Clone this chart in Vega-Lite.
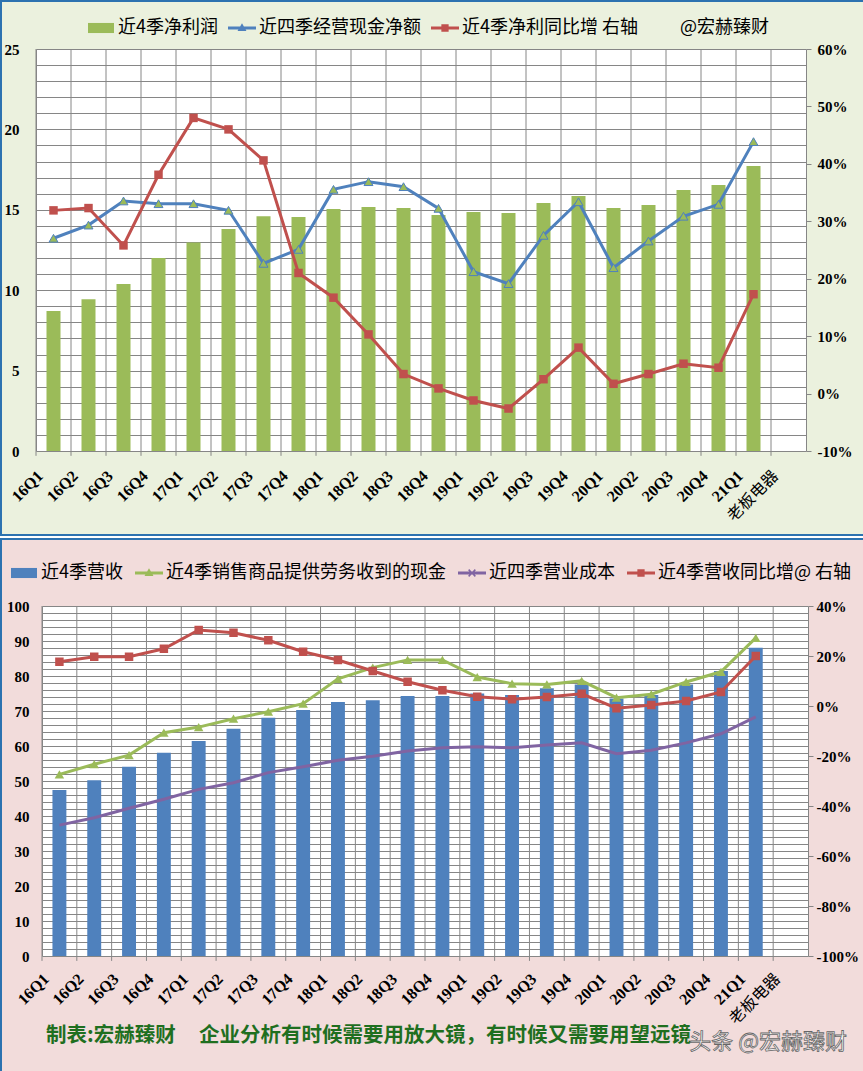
{
  "$schema": "https://vega.github.io/schema/vega-lite/v6.json",
  "padding": 0,
  "spacing": 4,
  "bounds": "flush",
  "background": "#ffffff",
  "config": {"view": {"stroke": null}, "style": {"wm": {"stroke": "#666666", "strokeWidth": 0.8}}},
  "title": {"text": "头条 @宏赫臻财", "orient": "bottom", "anchor": "end", "frame": "bounds", "offset": -31, "dx": -18, "baseline": "middle", "fontSize": 22, "font": "Noto Sans CJK SC", "fontWeight": "normal", "color": "#ffffff", "style": "wm"},
  "datasets": {
    "top": [
      {"q": "16Q1", "np": 8.7, "ocf": 13.23, "npg": 0.319},
      {"q": "16Q2", "np": 9.43, "ocf": 14.05, "npg": 0.323},
      {"q": "16Q3", "np": 10.39, "ocf": 15.55, "npg": 0.258},
      {"q": "16Q4", "np": 12.0, "ocf": 15.38, "npg": 0.381},
      {"q": "17Q1", "np": 12.96, "ocf": 15.38, "npg": 0.48},
      {"q": "17Q2", "np": 13.8, "ocf": 14.97, "npg": 0.46},
      {"q": "17Q3", "np": 14.6, "ocf": 11.67, "npg": 0.406},
      {"q": "17Q4", "np": 14.55, "ocf": 12.54, "npg": 0.21},
      {"q": "18Q1", "np": 15.05, "ocf": 16.27, "npg": 0.167},
      {"q": "18Q2", "np": 15.17, "ocf": 16.75, "npg": 0.103},
      {"q": "18Q3", "np": 15.11, "ocf": 16.44, "npg": 0.034},
      {"q": "18Q4", "np": 14.68, "ocf": 15.09, "npg": 0.009},
      {"q": "19Q1", "np": 14.86, "ocf": 11.15, "npg": -0.012},
      {"q": "19Q2", "np": 14.8, "ocf": 10.41, "npg": -0.026},
      {"q": "19Q3", "np": 15.42, "ocf": 13.41, "npg": 0.025},
      {"q": "19Q4", "np": 15.86, "ocf": 15.5, "npg": 0.08},
      {"q": "20Q1", "np": 15.11, "ocf": 11.4, "npg": 0.017},
      {"q": "20Q2", "np": 15.3, "ocf": 13.06, "npg": 0.034},
      {"q": "20Q3", "np": 16.23, "ocf": 14.6, "npg": 0.052},
      {"q": "20Q4", "np": 16.54, "ocf": 15.34, "npg": 0.045},
      {"q": "21Q1", "np": 17.72, "ocf": 19.24, "npg": 0.173},
      {"q": "老板电器", "np": null, "ocf": null, "npg": null}
    ],
    "bot": [
      {"q": "16Q1", "rev": 47.4, "cash": 51.9, "cost": 37.4, "revg": 0.177},
      {"q": "16Q2", "rev": 50.2, "cash": 54.8, "cost": 39.5, "revg": 0.197},
      {"q": "16Q3", "rev": 54.1, "cash": 57.4, "cost": 42.2, "revg": 0.197},
      {"q": "16Q4", "rev": 58.1, "cash": 63.8, "cost": 44.8, "revg": 0.229},
      {"q": "17Q1", "rev": 61.4, "cash": 65.4, "cost": 47.6, "revg": 0.304},
      {"q": "17Q2", "rev": 64.9, "cash": 67.8, "cost": 49.5, "revg": 0.293},
      {"q": "17Q3", "rev": 68.1, "cash": 69.8, "cost": 52.4, "revg": 0.263},
      {"q": "17Q4", "rev": 70.3, "cash": 72.1, "cost": 54.1, "revg": 0.217},
      {"q": "18Q1", "rev": 72.6, "cash": 79.2, "cost": 55.9, "revg": 0.184},
      {"q": "18Q2", "rev": 73.1, "cash": 82.4, "cost": 57.1, "revg": 0.14},
      {"q": "18Q3", "rev": 74.3, "cash": 84.6, "cost": 58.6, "revg": 0.097},
      {"q": "18Q4", "rev": 74.3, "cash": 84.6, "cost": 59.5, "revg": 0.063},
      {"q": "19Q1", "rev": 75.0, "cash": 79.7, "cost": 59.8, "revg": 0.037},
      {"q": "19Q2", "rev": 74.6, "cash": 77.8, "cost": 59.5, "revg": 0.027},
      {"q": "19Q3", "rev": 76.5, "cash": 77.6, "cost": 60.3, "revg": 0.036},
      {"q": "19Q4", "rev": 77.6, "cash": 78.6, "cost": 60.9, "revg": 0.049},
      {"q": "20Q1", "rev": 73.6, "cash": 73.8, "cost": 57.8, "revg": -0.009},
      {"q": "20Q2", "rev": 74.6, "cash": 74.8, "cost": 58.8, "revg": 0.004},
      {"q": "20Q3", "rev": 77.6, "cash": 78.3, "cost": 60.9, "revg": 0.02},
      {"q": "20Q4", "rev": 81.4, "cash": 81.2, "cost": 63.5, "revg": 0.056},
      {"q": "21Q1", "rev": 88.1, "cash": 90.9, "cost": 68.3, "revg": 0.2},
      {"q": "老板电器", "rev": null, "cash": null, "cost": null, "revg": null}
    ]
  },
  "resolve": {"scale": {"color": "independent", "x": "independent", "y": "independent"}, "legend": {"color": "independent"}},
  "vconcat": [
    {
      "width": 863,
      "height": 534,
      "data": {"name": "top"},
      "view": {"fill": "#EBF1DE", "stroke": "#2C72B0", "strokeWidth": 2},
      "encoding": {
        "x": {"field": "q", "type": "nominal", "sort": null,
          "scale": {"domain": ["16Q1","16Q2","16Q3","16Q4","17Q1","17Q2","17Q3","17Q4","18Q1","18Q2","18Q3","18Q4","19Q1","19Q2","19Q3","19Q4","20Q1","20Q2","20Q3","20Q4","21Q1","老板电器"], "range": [35, 805], "paddingInner": 0, "paddingOuter": 0},
          "axis": {"title": null, "orient": "bottom", "offset": -285, "ticks": false, "tickSize": 0, "grid": false, "domainColor": "#ffffff", "domainWidth": 402, "labelAngle": -45, "labelAlign": "right", "labelBaseline": "middle", "labelPadding": 223, "labelOffset": -13, "labelFont": "Liberation Serif, Noto Sans CJK SC", "labelFontSize": 16, "labelFontWeight": {"condition": {"test": "datum.value === '老板电器'", "value": "normal"}, "value": "bold"}, "labelColor": "#000000", "labelOverlap": false, "labelLimit": 0, "labelBound": false}}
      },
      "layer": [
        {
          "layer": [
            {
              "mark": {"type": "rule", "color": "#868686", "strokeWidth": 1},
              "encoding": {
                "x": {"field": "q", "type": "nominal", "sort": null, "bandPosition": 0,
                  "axis": {"title": null, "orient": "bottom", "offset": -285, "ticks": false, "tickSize": 0, "grid": false, "domainColor": "#ffffff", "domainWidth": 402, "labelAngle": -45, "labelAlign": "right", "labelBaseline": "middle", "labelPadding": 223, "labelOffset": -13, "labelFont": "Liberation Serif, Noto Sans CJK SC", "labelFontSize": 16, "labelFontWeight": {"condition": {"test": "datum.value === '老板电器'", "value": "normal"}, "value": "bold"}, "labelColor": "#000000", "labelOverlap": false, "labelLimit": 0, "labelBound": false}},
                "y": {"datum": -0.3, "type": "quantitative", "scale": {"domain": [0, 25], "range": [450, 48], "nice": false},
                  "axis": {"title": null, "orient": "left", "offset": -35, "values": [0,1,2,3,4,5,6,7,8,9,10,11,12,13,14,15,16,17,18,19,20,21,22,23,24,25], "grid": false, "ticks": true, "tickSize": -770, "tickColor": "#868686", "tickWidth": 1, "domainColor": "#868686", "labelExpr": "datum.value % 5 === 0 ? datum.label : ''", "labelPadding": 787, "labelFont": "Liberation Serif", "labelFontSize": 15, "labelFontWeight": "bold", "labelColor": "#000000", "labelOverlap": false}},
                "y2": {"datum": 25}
              }
            },
            {
              "mark": {"type": "bar", "width": {"band": 0.4}},
              "encoding": {
                "y": {"field": "np", "type": "quantitative", "scale": {"domain": [0, 25], "range": [450, 48], "nice": false},
                  "axis": {"title": null, "orient": "left", "offset": -35, "values": [0,1,2,3,4,5,6,7,8,9,10,11,12,13,14,15,16,17,18,19,20,21,22,23,24,25], "grid": false, "ticks": true, "tickSize": -770, "tickColor": "#868686", "tickWidth": 1, "domainColor": "#868686", "labelExpr": "datum.value % 5 === 0 ? datum.label : ''", "labelPadding": 787, "labelFont": "Liberation Serif", "labelFontSize": 15, "labelFontWeight": "bold", "labelColor": "#000000", "labelOverlap": false}},
                "color": {"datum": "近4季净利润",
                  "scale": {"domain": ["近4季净利润", "近四季经营现金净额", "近4季净利同比增 右轴", "@宏赫臻财"], "range": ["#9BBB59", "#4F81BD", "#C0504D", "#000000"]},
                  "legend": {"title": null, "orient": "none", "legendX": 86, "legendY": 13, "direction": "horizontal", "symbolSize": 784, "symbolStrokeWidth": 0, "labelFont": "Noto Sans CJK SC", "labelFontSize": 18, "labelColor": "#000000", "labelOffset": 3, "columnPadding": 10, "padding": 0, "labelLimit": 0,
                    "encode": {"symbols": {"update": {"shape": {"signal": "datum.value === '近4季净利润' ? 'M-0.93,-0.36H0.93V0.36H-0.93Z' : datum.value === '近四季经营现金净额' ? 'M-1,-0.1H1V0.1H-1ZM0,-0.34L0.32,0.22L-0.32,0.22Z' : datum.value === '近4季净利同比增 右轴' ? 'M-1,-0.1H1V0.1H-1ZM-0.26,-0.26H0.26V0.26H-0.26Z' : 'M0,0'"}, "strokeWidth": {"value": 0}}}}}}
              }
            },
            {
              "mark": {"type": "line", "color": "#4F81BD", "strokeWidth": 3},
              "encoding": {
                "y": {"field": "ocf", "type": "quantitative", "scale": {"domain": [0, 25], "range": [450, 48], "nice": false},
                  "axis": {"title": null, "orient": "left", "offset": -35, "values": [0,1,2,3,4,5,6,7,8,9,10,11,12,13,14,15,16,17,18,19,20,21,22,23,24,25], "grid": false, "ticks": true, "tickSize": -770, "tickColor": "#868686", "tickWidth": 1, "domainColor": "#868686", "labelExpr": "datum.value % 5 === 0 ? datum.label : ''", "labelPadding": 787, "labelFont": "Liberation Serif", "labelFontSize": 15, "labelFontWeight": "bold", "labelColor": "#000000", "labelOverlap": false}}
              }
            },
            {
              "mark": {"type": "point", "shape": "triangle-up", "size": 80, "filled": true, "fill": "#9BBB59", "stroke": "#4F81BD", "strokeWidth": 1, "opacity": 1},
              "encoding": {
                "y": {"field": "ocf", "type": "quantitative", "scale": {"domain": [0, 25], "range": [450, 48], "nice": false},
                  "axis": {"title": null, "orient": "left", "offset": -35, "values": [0,1,2,3,4,5,6,7,8,9,10,11,12,13,14,15,16,17,18,19,20,21,22,23,24,25], "grid": false, "ticks": true, "tickSize": -770, "tickColor": "#868686", "tickWidth": 1, "domainColor": "#868686", "labelExpr": "datum.value % 5 === 0 ? datum.label : ''", "labelPadding": 787, "labelFont": "Liberation Serif", "labelFontSize": 15, "labelFontWeight": "bold", "labelColor": "#000000", "labelOverlap": false}}
              }
            }
          ]
        },
        {
          "layer": [
            {
              "mark": {"type": "line", "color": "#C0504D", "strokeWidth": 3},
              "encoding": {
                "y": {"field": "npg", "type": "quantitative", "scale": {"domain": [-0.1, 0.6], "range": [450, 48], "nice": false, "zero": false},
                  "axis": {"title": null, "orient": "right", "offset": -58, "values": [-0.1, 0, 0.1, 0.2, 0.3, 0.4, 0.5, 0.6], "format": ".0%", "labelExpr": "replace(datum.label, '−', '-')", "grid": false, "domainColor": "#868686", "tickColor": "#868686", "tickSize": 5, "labelPadding": 6, "labelFont": "Liberation Serif", "labelFontSize": 15, "labelFontWeight": "bold", "labelColor": "#000000", "labelOverlap": false}}
              }
            },
            {
              "mark": {"type": "point", "shape": "square", "size": 72, "filled": true, "color": "#C0504D", "opacity": 1},
              "encoding": {
                "y": {"field": "npg", "type": "quantitative", "scale": {"domain": [-0.1, 0.6], "range": [450, 48], "nice": false, "zero": false},
                  "axis": {"title": null, "orient": "right", "offset": -58, "values": [-0.1, 0, 0.1, 0.2, 0.3, 0.4, 0.5, 0.6], "format": ".0%", "labelExpr": "replace(datum.label, '−', '-')", "grid": false, "domainColor": "#868686", "tickColor": "#868686", "tickSize": 5, "labelPadding": 6, "labelFont": "Liberation Serif", "labelFontSize": 15, "labelFontWeight": "bold", "labelColor": "#000000", "labelOverlap": false}}
              }
            }
          ]
        }
      ],
      "resolve": {"scale": {"y": "independent"}}
    },
    {
      "width": 863,
      "height": 533,
      "data": {"name": "bot"},
      "view": {"fill": "#F2DCDB", "stroke": "#2C72B0", "strokeWidth": 2},
      "title": {"text": "制表:宏赫臻财\u00a0\u00a0\u00a0\u00a0\u00a0企业分析有时候需要用放大镜，有时候又需要用望远镜", "orient": "bottom", "anchor": "start", "frame": "group", "offset": -36, "dx": 45, "baseline": "middle", "fontSize": 20.5, "font": "Noto Sans CJK SC", "fontWeight": "bold", "color": "#1F6F1F"},
      "encoding": {
        "x": {"field": "q", "type": "nominal", "sort": null,
          "scale": {"domain": ["16Q1","16Q2","16Q3","16Q4","17Q1","17Q2","17Q3","17Q4","18Q1","18Q2","18Q3","18Q4","19Q1","19Q2","19Q3","19Q4","20Q1","20Q2","20Q3","20Q4","21Q1","老板电器"], "range": [41, 807], "paddingInner": 0, "paddingOuter": 0},
          "axis": {"title": null, "orient": "bottom", "offset": -291, "ticks": false, "tickSize": 0, "grid": false, "domainColor": "#ffffff", "domainWidth": 350, "labelAngle": -45, "labelAlign": "right", "labelBaseline": "middle", "labelPadding": 195, "labelOffset": -13, "labelFont": "Liberation Serif, Noto Sans CJK SC", "labelFontSize": 16, "labelFontWeight": {"condition": {"test": "datum.value === '老板电器'", "value": "normal"}, "value": "bold"}, "labelColor": "#000000", "labelOverlap": false, "labelLimit": 0, "labelBound": false}}
      },
      "layer": [
        {
          "layer": [
            {
              "mark": {"type": "rule", "color": "#868686", "strokeWidth": 1},
              "encoding": {
                "x": {"field": "q", "type": "nominal", "sort": null, "bandPosition": 0,
                  "axis": {"title": null, "orient": "bottom", "offset": -291, "ticks": false, "tickSize": 0, "grid": false, "domainColor": "#ffffff", "domainWidth": 350, "labelAngle": -45, "labelAlign": "right", "labelBaseline": "middle", "labelPadding": 195, "labelOffset": -13, "labelFont": "Liberation Serif, Noto Sans CJK SC", "labelFontSize": 16, "labelFontWeight": {"condition": {"test": "datum.value === '老板电器'", "value": "normal"}, "value": "bold"}, "labelColor": "#000000", "labelOverlap": false, "labelLimit": 0, "labelBound": false}},
                "y": {"datum": -1.4, "type": "quantitative", "scale": {"domain": [0, 100], "range": [417, 67], "nice": false},
                  "axis": {"title": null, "orient": "left", "offset": -41, "values": [0,2,4,6,8,10,12,14,16,18,20,22,24,26,28,30,32,34,36,38,40,42,44,46,48,50,52,54,56,58,60,62,64,66,68,70,72,74,76,78,80,82,84,86,88,90,92,94,96,98,100], "grid": false, "ticks": true, "tickSize": -766, "tickColor": "#868686", "tickWidth": 1, "domainColor": "#868686", "labelExpr": "datum.value % 10 === 0 ? datum.label : ''", "labelPadding": 779, "labelFont": "Liberation Serif", "labelFontSize": 15, "labelFontWeight": "bold", "labelColor": "#000000", "labelOverlap": false}},
                "y2": {"datum": 100}
              }
            },
            {
              "mark": {"type": "bar", "width": {"band": 0.4}},
              "encoding": {
                "y": {"field": "rev", "type": "quantitative", "scale": {"domain": [0, 100], "range": [417, 67], "nice": false},
                  "axis": {"title": null, "orient": "left", "offset": -41, "values": [0,2,4,6,8,10,12,14,16,18,20,22,24,26,28,30,32,34,36,38,40,42,44,46,48,50,52,54,56,58,60,62,64,66,68,70,72,74,76,78,80,82,84,86,88,90,92,94,96,98,100], "grid": false, "ticks": true, "tickSize": -766, "tickColor": "#868686", "tickWidth": 1, "domainColor": "#868686", "labelExpr": "datum.value % 10 === 0 ? datum.label : ''", "labelPadding": 779, "labelFont": "Liberation Serif", "labelFontSize": 15, "labelFontWeight": "bold", "labelColor": "#000000", "labelOverlap": false}},
                "color": {"datum": "近4季营收",
                  "scale": {"domain": ["近4季营收", "近4季销售商品提供劳务收到的现金", "近四季营业成本", "近4季营收同比增@ 右轴"], "range": ["#4F81BD", "#9BBB59", "#8064A2", "#C0504D"]},
                  "legend": {"title": null, "orient": "none", "legendX": 9, "legendY": 20, "direction": "horizontal", "symbolSize": 784, "symbolStrokeWidth": 0, "labelFont": "Noto Sans CJK SC", "labelFontSize": 18, "labelColor": "#000000", "labelOffset": 3, "columnPadding": 12, "padding": 0, "labelLimit": 0,
                    "encode": {"symbols": {"update": {"shape": {"signal": "datum.value === '近4季营收' ? 'M-0.93,-0.36H0.93V0.36H-0.93Z' : datum.value === '近4季销售商品提供劳务收到的现金' ? 'M-1,-0.1H1V0.1H-1ZM0,-0.34L0.32,0.22L-0.32,0.22Z' : datum.value === '近四季营业成本' ? 'M-1,-0.1H1V0.1H-1ZM-0.28,-0.2L-0.2,-0.28L0,-0.08L0.2,-0.28L0.28,-0.2L0.08,0L0.28,0.2L0.2,0.28L0,0.08L-0.2,0.28L-0.28,0.2L-0.08,0Z' : 'M-1,-0.1H1V0.1H-1ZM-0.26,-0.26H0.26V0.26H-0.26Z'"}, "strokeWidth": {"value": 0}}}}}}
              }
            },
            {
              "mark": {"type": "line", "color": "#9BBB59", "strokeWidth": 3},
              "encoding": {
                "y": {"field": "cash", "type": "quantitative", "scale": {"domain": [0, 100], "range": [417, 67], "nice": false},
                  "axis": {"title": null, "orient": "left", "offset": -41, "values": [0,2,4,6,8,10,12,14,16,18,20,22,24,26,28,30,32,34,36,38,40,42,44,46,48,50,52,54,56,58,60,62,64,66,68,70,72,74,76,78,80,82,84,86,88,90,92,94,96,98,100], "grid": false, "ticks": true, "tickSize": -766, "tickColor": "#868686", "tickWidth": 1, "domainColor": "#868686", "labelExpr": "datum.value % 10 === 0 ? datum.label : ''", "labelPadding": 779, "labelFont": "Liberation Serif", "labelFontSize": 15, "labelFontWeight": "bold", "labelColor": "#000000", "labelOverlap": false}}
              }
            },
            {
              "mark": {"type": "point", "shape": "triangle-up", "size": 90, "filled": true, "color": "#9BBB59", "opacity": 1},
              "encoding": {
                "y": {"field": "cash", "type": "quantitative", "scale": {"domain": [0, 100], "range": [417, 67], "nice": false},
                  "axis": {"title": null, "orient": "left", "offset": -41, "values": [0,2,4,6,8,10,12,14,16,18,20,22,24,26,28,30,32,34,36,38,40,42,44,46,48,50,52,54,56,58,60,62,64,66,68,70,72,74,76,78,80,82,84,86,88,90,92,94,96,98,100], "grid": false, "ticks": true, "tickSize": -766, "tickColor": "#868686", "tickWidth": 1, "domainColor": "#868686", "labelExpr": "datum.value % 10 === 0 ? datum.label : ''", "labelPadding": 779, "labelFont": "Liberation Serif", "labelFontSize": 15, "labelFontWeight": "bold", "labelColor": "#000000", "labelOverlap": false}}
              }
            },
            {
              "mark": {"type": "line", "color": "#8064A2", "strokeWidth": 3},
              "encoding": {
                "y": {"field": "cost", "type": "quantitative", "scale": {"domain": [0, 100], "range": [417, 67], "nice": false},
                  "axis": {"title": null, "orient": "left", "offset": -41, "values": [0,2,4,6,8,10,12,14,16,18,20,22,24,26,28,30,32,34,36,38,40,42,44,46,48,50,52,54,56,58,60,62,64,66,68,70,72,74,76,78,80,82,84,86,88,90,92,94,96,98,100], "grid": false, "ticks": true, "tickSize": -766, "tickColor": "#868686", "tickWidth": 1, "domainColor": "#868686", "labelExpr": "datum.value % 10 === 0 ? datum.label : ''", "labelPadding": 779, "labelFont": "Liberation Serif", "labelFontSize": 15, "labelFontWeight": "bold", "labelColor": "#000000", "labelOverlap": false}}
              }
            }
          ]
        },
        {
          "layer": [
            {
              "mark": {"type": "line", "color": "#C0504D", "strokeWidth": 3},
              "encoding": {
                "y": {"field": "revg", "type": "quantitative", "scale": {"domain": [-1, 0.4], "range": [417, 67], "nice": false, "zero": false},
                  "axis": {"title": null, "orient": "right", "offset": -56, "values": [-1, -0.8, -0.6, -0.4, -0.2, 0, 0.2, 0.4], "format": ".0%", "labelExpr": "replace(datum.label, '−', '-')", "grid": false, "domainColor": "#868686", "tickColor": "#868686", "tickSize": 5, "labelPadding": 3, "labelFont": "Liberation Serif", "labelFontSize": 15, "labelFontWeight": "bold", "labelColor": "#000000", "labelOverlap": false}}
              }
            },
            {
              "mark": {"type": "point", "shape": "square", "size": 72, "filled": true, "color": "#C0504D", "opacity": 1},
              "encoding": {
                "y": {"field": "revg", "type": "quantitative", "scale": {"domain": [-1, 0.4], "range": [417, 67], "nice": false, "zero": false},
                  "axis": {"title": null, "orient": "right", "offset": -56, "values": [-1, -0.8, -0.6, -0.4, -0.2, 0, 0.2, 0.4], "format": ".0%", "labelExpr": "replace(datum.label, '−', '-')", "grid": false, "domainColor": "#868686", "tickColor": "#868686", "tickSize": 5, "labelPadding": 3, "labelFont": "Liberation Serif", "labelFontSize": 15, "labelFontWeight": "bold", "labelColor": "#000000", "labelOverlap": false}}
              }
            }
          ]
        }
      ],
      "resolve": {"scale": {"y": "independent"}}
    }
  ]
}
